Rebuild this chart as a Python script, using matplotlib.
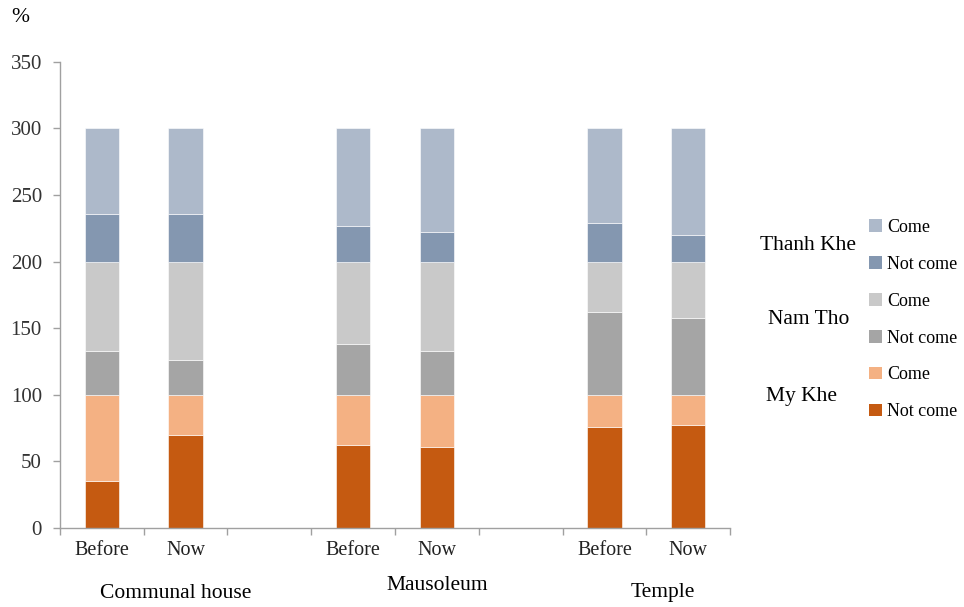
import numpy as np
import matplotlib.pyplot as plt
from matplotlib.patches import Patch

plt.rcParams['font.family'] = ['Liberation Serif', 'DejaVu Serif']

# slots on the category axis (empty slot between sites)
slot_labels = ['Before', 'Now', '', 'Before', 'Now', '', 'Before', 'Now']
sites = ['Communal house', 'Mausoleum', 'Temple']
bar_slots = [0, 1, 3, 4, 6, 7]

# percentages per bar: Communal house (Before, Now), Mausoleum, Temple
my_khe_not = [35, 70, 62, 61, 76, 77]
my_khe_come = [65, 30, 38, 39, 24, 23]
nam_tho_not = [33, 26, 38, 33, 62, 58]
nam_tho_come = [67, 74, 62, 67, 38, 42]
thanh_khe_not = [36, 36, 27, 22, 29, 20]
thanh_khe_come = [64, 64, 73, 78, 71, 80]

series = [my_khe_not, my_khe_come, nam_tho_not, nam_tho_come, thanh_khe_not, thanh_khe_come]
colors = ['#C55A11', '#F4B183', '#A5A5A5', '#C9C9C9', '#8497B0', '#ADB9CA']
names = ['Not come', 'Come', 'Not come', 'Come', 'Not come', 'Come']

fig = plt.figure(figsize=(9.64, 6.07), dpi=100)
ax = fig.add_axes([0.0622, 0.1301, 0.6951, 0.7683])

bottom = np.zeros(len(bar_slots))
for vals, c in zip(series, colors):
    ax.bar(bar_slots, vals, width=0.41, bottom=bottom, color=c, edgecolor='white', linewidth=0.4)
    bottom += np.array(vals)

ax.set_xlim(-0.5, 7.5)
ax.set_ylim(0, 350)
ax.set_yticks(np.arange(0, 351, 50))

ax.set_xticks(range(len(slot_labels)))
ax.set_xticklabels(slot_labels, fontsize=14.5, color='#222222')
ax.set_xticks(np.arange(-0.5, 8, 1), minor=True)
ax.tick_params(axis='x', which='major', length=0, pad=9)
ax.tick_params(axis='x', which='minor', length=5, color='#A0A0A0', width=1)
ax.tick_params(axis='y', length=5, color='#A0A0A0', width=1, labelsize=15,
               labelcolor='#333333', pad=8)

for s in ['top', 'right']:
    ax.spines[s].set_visible(False)
for s in ['left', 'bottom']:
    ax.spines[s].set_color('#A0A0A0')
    ax.spines[s].set_linewidth(1.0)

# site names under the bars
fig.text(176 / 964, 1 - 593 / 607, sites[0], ha='center', va='center', fontsize=15.5)
fig.text(437 / 964, 1 - 586 / 607, sites[1], ha='center', va='center', fontsize=15.5)
fig.text(663 / 964, 1 - 593 / 607, sites[2], ha='center', va='center', fontsize=15.5)

fig.text(20 / 964, 1 - 18 / 607, '%', ha='center', va='center', fontsize=15.5)

# legend, top to bottom: Thanh Khe, Nam Tho, My Khe
handles = [Patch(facecolor=c) for c in colors[::-1]]
fig.legend(handles, names[::-1], loc='upper left', bbox_to_anchor=(869 / 964, 1 - 219 / 607),
           frameon=False, fontsize=13, handlelength=0.7, handleheight=0.7,
           handletextpad=0.3, labelspacing=1.1, borderpad=0, borderaxespad=0)

fig.text(808 / 964, 1 - 245 / 607, 'Thanh Khe', ha='center', va='center', fontsize=15.5)
fig.text(809 / 964, 1 - 319 / 607, 'Nam Tho', ha='center', va='center', fontsize=15.5)
fig.text(802 / 964, 1 - 397 / 607, 'My Khe', ha='center', va='center', fontsize=15.5)

fig.savefig('out.png', dpi=100)
